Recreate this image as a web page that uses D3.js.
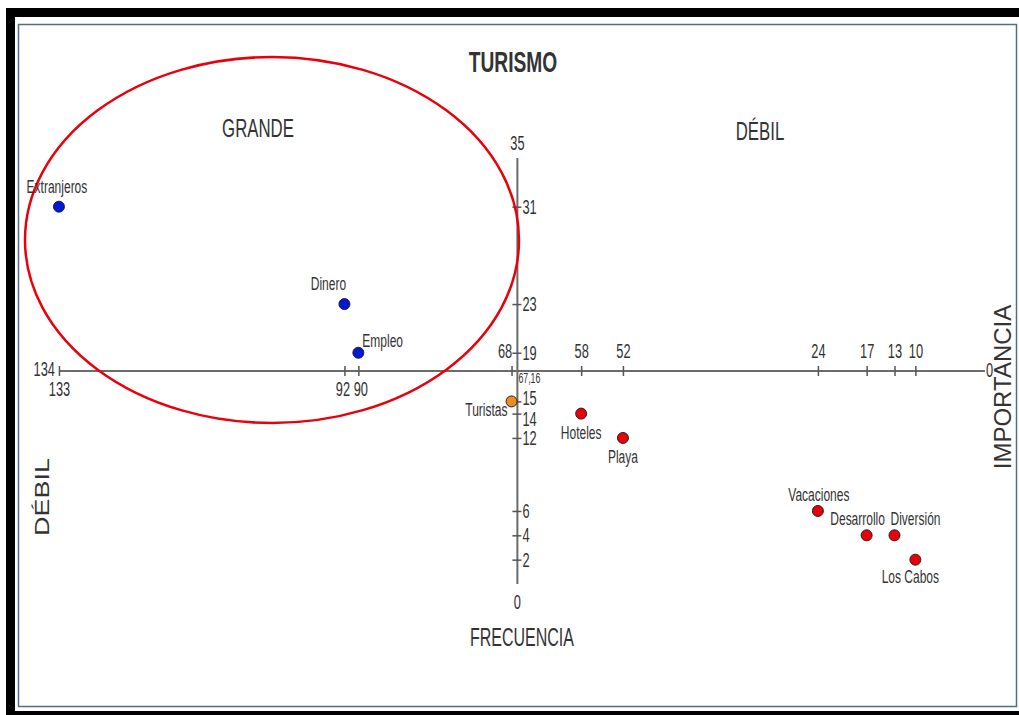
<!DOCTYPE html>
<html>
<head>
<meta charset="utf-8">
<script src="https://d3js.org/d3.v7.min.js"></script>
<style>
  body { margin: 0; background: #fff; }
  text { font-family: "Liberation Sans", Arial, sans-serif; fill: #333; }
</style>
</head>
<body>
<div id="chart"></div>
<script>
// chart values
var labels = ["Extranjeros", "Dinero", "Empleo", "Turistas", "Hoteles", "Playa",
  "Vacaciones", "Desarrollo", "Diversión", "Los Cabos"];
var xVals = [133, 92, 90, 68, 58, 52, 24, 17, 13, 10];
var yVals = [31, 23, 19, 15, 14, 12, 6, 4, 4, 2];
var groups = ["grande", "grande", "grande", "medio", "debil", "debil", "debil", "debil", "debil", "debil"];

var xTicksBelow = [133, 92, 90];
var xTicksAbove = [68, 58, 52, 24, 17, 13, 10];
var yTicks = [31, 23, 19, 15, 14, 12, 6, 4, 2];
var xCross = 67.16;
var yCross = 17.5;

var svgWidth = 1019;
var svgHeight = 715;

// narrow look: squeeze text horizontally, stretch a bit vertically
var SX = 0.8, SY = 1.25;
function squeeze(sel, sx, sy) {
  sx = sx || SX; sy = sy || SY;
  sel.each(function() {
    var t = d3.select(this);
    var x = +t.attr("x") || 0, y = +t.attr("y") || 0;
    t.attr("x", x / sx).attr("y", y / sy).attr("transform", `scale(${sx},${sy})`);
  });
  return sel;
}

var svg = d3.select("#chart")
  .append("svg")
  .attr("width", svgWidth)
  .attr("height", svgHeight);

// frame
svg.append("rect").attr("x", 6).attr("y", 8).attr("width", svgWidth - 6).attr("height", svgHeight - 8).attr("fill", "#000");
svg.append("rect").attr("x", 15).attr("y", 17).attr("width", svgWidth - 15).attr("height", 694).attr("fill", "#fff");
svg.append("rect").attr("x", 18.5).attr("y", 24.5).attr("width", 998).attr("height", 682)
  .attr("fill", "none").attr("stroke", "#4d6d94").attr("stroke-width", 1.5);

var xScale = d3.scaleLinear().domain([0, 134]).range([985, 52]);
var yScale = d3.scaleLinear().domain([0, 35]).range([584, 158]);

var x0 = xScale(xCross);
var y0 = yScale(yCross);

var colors = { grande: "#0018d8", medio: "#f08c1e", debil: "#e8000a" };

// horizontal axis
var axisG = svg.append("g");
axisG.append("line")
  .attr("x1", xScale(133)).attr("x2", xScale(0))
  .attr("y1", y0).attr("y2", y0)
  .attr("stroke", "#6b6b6b").attr("stroke-width", 2);

var xTop = svg.append("g")
  .attr("transform", `translate(0, ${y0})`)
  .call(d3.axisTop(xScale).tickValues(xTicksAbove).tickSizeOuter(0).tickSize(5).tickPadding(8));
var xBottom = svg.append("g")
  .attr("transform", `translate(0, ${y0})`)
  .call(d3.axisBottom(xScale).tickValues(xTicksBelow).tickSizeOuter(0).tickSize(5).tickPadding(6));

// vertical axis
axisG.append("line")
  .attr("x1", x0).attr("x2", x0)
  .attr("y1", yScale(35)).attr("y2", yScale(0))
  .attr("stroke", "#6b6b6b").attr("stroke-width", 2);

var yAxis = svg.append("g")
  .attr("transform", `translate(${x0}, 0)`)
  .call(d3.axisRight(yScale).tickValues(yTicks).tickSizeOuter(0).tickSize(4).tickPadding(1));

// small nudges so crowded labels read like the original
xTop.selectAll(".tick text").attr("x", d => d === 68 ? -7 : 0);
xBottom.selectAll(".tick text").attr("x", d => d === 92 ? -2 : (d === 90 ? 2 : 0));
yAxis.selectAll(".tick text").attr("y", d => d === 14 ? 5 : (d === 15 ? -3 : 0));

[xTop, xBottom, yAxis].forEach(function(g) {
  g.select(".domain").remove();
  g.selectAll(".tick line").attr("stroke", "#555").attr("stroke-width", 1.5);
  g.selectAll(".tick text").attr("font-size", 16).attr("fill", "#333")
    .style("font-family", "'Liberation Sans', Arial, sans-serif");
  squeeze(g.selectAll(".tick text"));
});
// ticks cross the axis
xTop.selectAll(".tick line").attr("y1", 5);
xBottom.selectAll(".tick line").attr("y1", -5);
yAxis.selectAll(".tick line").attr("x1", -5);

// end labels
squeeze(svg.append("text").attr("x", xScale(133) - 4).attr("y", y0 + 5).attr("text-anchor", "end")
  .attr("font-size", 16).text("134"));
squeeze(svg.append("text").attr("x", xScale(0) + 1).attr("y", y0 + 6).attr("font-size", 16).text("0"));
squeeze(svg.append("text").attr("x", x0).attr("y", yScale(35) - 8).attr("text-anchor", "middle")
  .attr("font-size", 16).text("35"));
squeeze(svg.append("text").attr("x", x0).attr("y", yScale(0) + 25).attr("text-anchor", "middle")
  .attr("font-size", 16).text("0"));
squeeze(svg.append("text").attr("x", x0 + 1).attr("y", y0 + 12).attr("font-size", 11).text("67,16"));

// ellipse around the "grande" group
svg.append("ellipse")
  .attr("cx", 272).attr("cy", 240).attr("rx", 247).attr("ry", 183)
  .attr("fill", "none").attr("stroke", "#e8000a").attr("stroke-width", 2.5);

// points
var points = labels.map(function(l, i) {
  return { label: l, x: xVals[i], y: yVals[i], group: groups[i] };
});

svg.selectAll("circle.pt")
  .data(points)
  .enter()
  .append("circle")
  .attr("class", "pt")
  .attr("cx", d => xScale(d.x))
  .attr("cy", d => yScale(d.y))
  .attr("r", 5.5)
  .attr("fill", d => colors[d.group])
  .attr("stroke", "#222")
  .attr("stroke-width", 1);

// label offsets [dx, dy, anchor]
var labelPos = {
  "Extranjeros": [-2, -14, "middle"],
  "Dinero": [-16, -14, "middle"],
  "Empleo": [4, -6, "start"],
  "Turistas": [-4, 15, "end"],
  "Hoteles": [0, 25, "middle"],
  "Playa": [0, 25, "middle"],
  "Vacaciones": [1, -10, "middle"],
  "Desarrollo": [-9, -10, "middle"],
  "Diversión": [21, -10, "middle"],
  "Los Cabos": [-5, 23, "middle"]
};

squeeze(svg.selectAll("text.lbl")
  .data(points)
  .enter()
  .append("text")
  .attr("class", "lbl")
  .attr("x", d => xScale(d.x) + labelPos[d.label][0])
  .attr("y", d => yScale(d.y) + labelPos[d.label][1])
  .attr("text-anchor", d => labelPos[d.label][2])
  .attr("font-size", 15)
  .attr("fill", "#333")
  .text(d => d.label));

// titles
squeeze(svg.append("text").attr("x", 513).attr("y", 72).attr("text-anchor", "middle")
  .attr("font-size", 24).attr("font-weight", "bold").attr("fill", "#111").text("TURISMO"));
squeeze(svg.append("text").attr("x", 258).attr("y", 137).attr("text-anchor", "middle")
  .attr("font-size", 21).attr("fill", "#222").text("GRANDE"));
squeeze(svg.append("text").attr("x", 760).attr("y", 140).attr("text-anchor", "middle")
  .attr("font-size", 21).attr("fill", "#222").text("DÉBIL"));
squeeze(svg.append("text").attr("x", 522).attr("y", 646).attr("text-anchor", "middle")
  .attr("font-size", 20).attr("fill", "#222").text("FRECUENCIA"));

svg.append("text")
  .attr("transform", "translate(49, 497) rotate(-90)")
  .attr("text-anchor", "middle")
  .attr("font-size", 21)
  .attr("textLength", 78)
  .attr("lengthAdjust", "spacingAndGlyphs")
  .attr("fill", "#222")
  .text("DÉBIL");
svg.append("text")
  .attr("transform", "translate(1011, 387) rotate(-90)")
  .attr("text-anchor", "middle")
  .attr("font-size", 24)
  .attr("fill", "#222")
  .text("IMPORTANCIA");
</script>
</body>
</html>
